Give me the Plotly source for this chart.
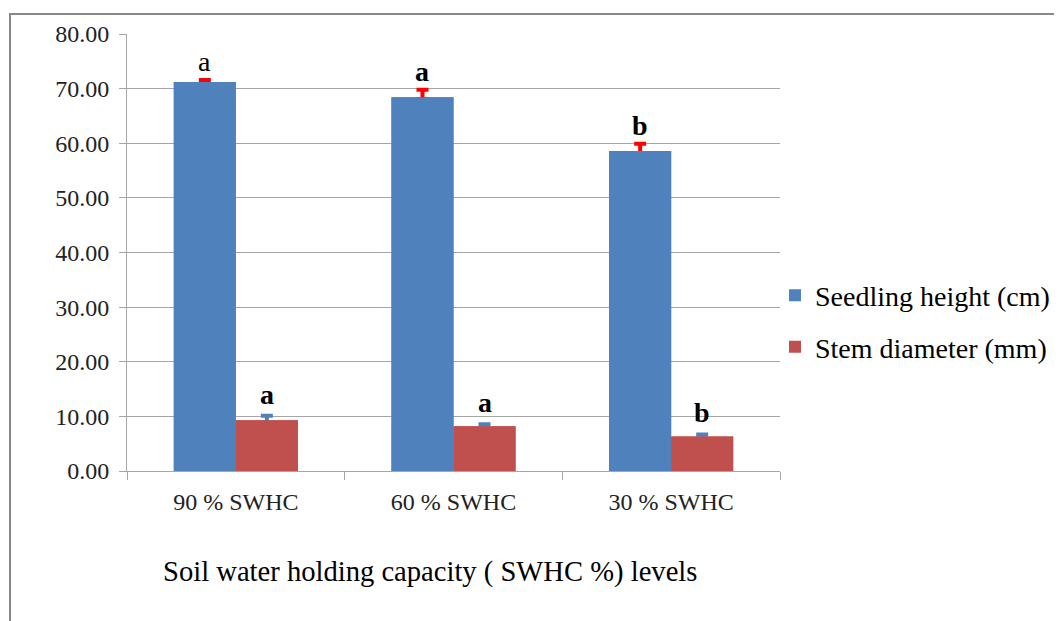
import plotly.graph_objects as go

categories = ["90 % SWHC", "60 % SWHC", "30 % SWHC"]
seedling_height = [71.2, 68.4, 58.6]
seedling_err = [0.4, 1.4, 1.3]
stem_diameter = [9.3, 8.2, 6.3]
stem_err = [0.8, 0.35, 0.4]
height_letters = ["a", "a", "b"]
height_letter_weight = ["normal", "bold", "bold"]
stem_letters = ["a", "a", "b"]
y_ticks = [0, 10, 20, 30, 40, 50, 60, 70, 80]
x_title = "Soil water holding capacity ( SWHC %) levels"

FONT = "Liberation Serif, Times New Roman, serif"
BLUE = "#4F81BD"
RED = "#C0504D"

# page body has an 8px default margin: compensate
L, T = 119, 26
PW, PH = 653, 437

# lower end of the error bars sits just inside the bar and is hidden by the overlay bars
hidden_minus = [0.4] * 3

fig = go.Figure()
fig.add_trace(go.Bar(
    name="Seedling height (cm)", x=categories, y=seedling_height,
    marker=dict(color=BLUE, line=dict(width=0)), offsetgroup="h",
    error_y=dict(type="data", array=seedling_err, symmetric=False, arrayminus=hidden_minus,
                 color="#FF0000", thickness=4, width=6),
    legendgroup="g1",
))
fig.add_trace(go.Bar(
    name="Stem diameter (mm)", x=categories, y=stem_diameter,
    marker=dict(color=RED, line=dict(width=0)), offsetgroup="s",
    error_y=dict(type="data", array=stem_err, symmetric=False, arrayminus=hidden_minus,
                 color=BLUE, thickness=4, width=6),
    legendgroup="g2",
))
# same bars drawn again on top so the lower end of each error bar stays hidden
fig.add_trace(go.Bar(x=categories, y=seedling_height, marker=dict(color=BLUE, line=dict(width=0)),
                     offsetgroup="h", showlegend=False, hoverinfo="skip"))
fig.add_trace(go.Bar(x=categories, y=stem_diameter, marker=dict(color=RED, line=dict(width=0)),
                     offsetgroup="s", showlegend=False, hoverinfo="skip"))

bargap = 0.43
off = (1 - bargap) / 4
annotations = []
for i in range(len(categories)):
    annotations.append(dict(x=i - off, y=seedling_height[i] + seedling_err[i], xref="x", yref="y",
                            text=height_letters[i], showarrow=False, yanchor="bottom", yshift=1,
                            font=dict(family=FONT, size=28, color="black",
                                      weight=height_letter_weight[i])))
    annotations.append(dict(x=i + off, y=stem_diameter[i] + stem_err[i], xref="x", yref="y",
                            text=stem_letters[i], showarrow=False, yanchor="bottom", yshift=4,
                            font=dict(family=FONT, size=28, color="black", weight="bold")))
annotations.append(dict(x=(430 - 127) / PW, y=(471 - 572) / PH, xref="paper", yref="paper",
                        text=x_title, showarrow=False, xanchor="center", yanchor="middle",
                        font=dict(family=FONT, size=28.6, color="black")))

fig.update_layout(
    width=1062, height=621,
    margin=dict(l=L, r=1062 - L - PW, t=T, b=621 - T - PH, autoexpand=False),
    paper_bgcolor="white", plot_bgcolor="white",
    barmode="group", bargap=bargap, bargroupgap=0,
    font=dict(family=FONT, color="black"),
    showlegend=True,
    legend=dict(x=1.0 + (775 - 780) / PW, xref="paper", xanchor="left", y=0.343, yanchor="middle",
                font=dict(family=FONT, size=28, color="black"),
                traceorder="grouped", tracegroupgap=12, bgcolor="rgba(0,0,0,0)"),
    annotations=annotations,
    shapes=[dict(type="rect", xref="paper", yref="paper", x0=(10 - 127) / PW, x1=1.6,
                 y0=-1.0, y1=(471 - 14) / PH,
                 line=dict(color="#888888", width=2), fillcolor="rgba(0,0,0,0)", layer="below")],
)
fig.update_yaxes(
    range=[0, 80], tickvals=y_ticks, tickformat=".2f",
    showgrid=True, gridcolor="#A6A6A6", gridwidth=1,
    showline=True, linecolor="#A6A6A6", linewidth=1,
    ticks="outside", ticklen=7, tickcolor="#A6A6A6", ticklabelstandoff=5,
    tickfont=dict(family=FONT, size=24, color="#222222"),
    zeroline=False, automargin=False,
)
fig.update_xaxes(
    showline=True, linecolor="#A6A6A6", linewidth=1,
    ticks="outside", tickson="boundaries", ticklen=8, tickcolor="#A6A6A6",
    ticklabelstandoff=9,
    tickfont=dict(family=FONT, size=24, color="#222222"),
    automargin=False,
)

fig.write_html("out.html")
